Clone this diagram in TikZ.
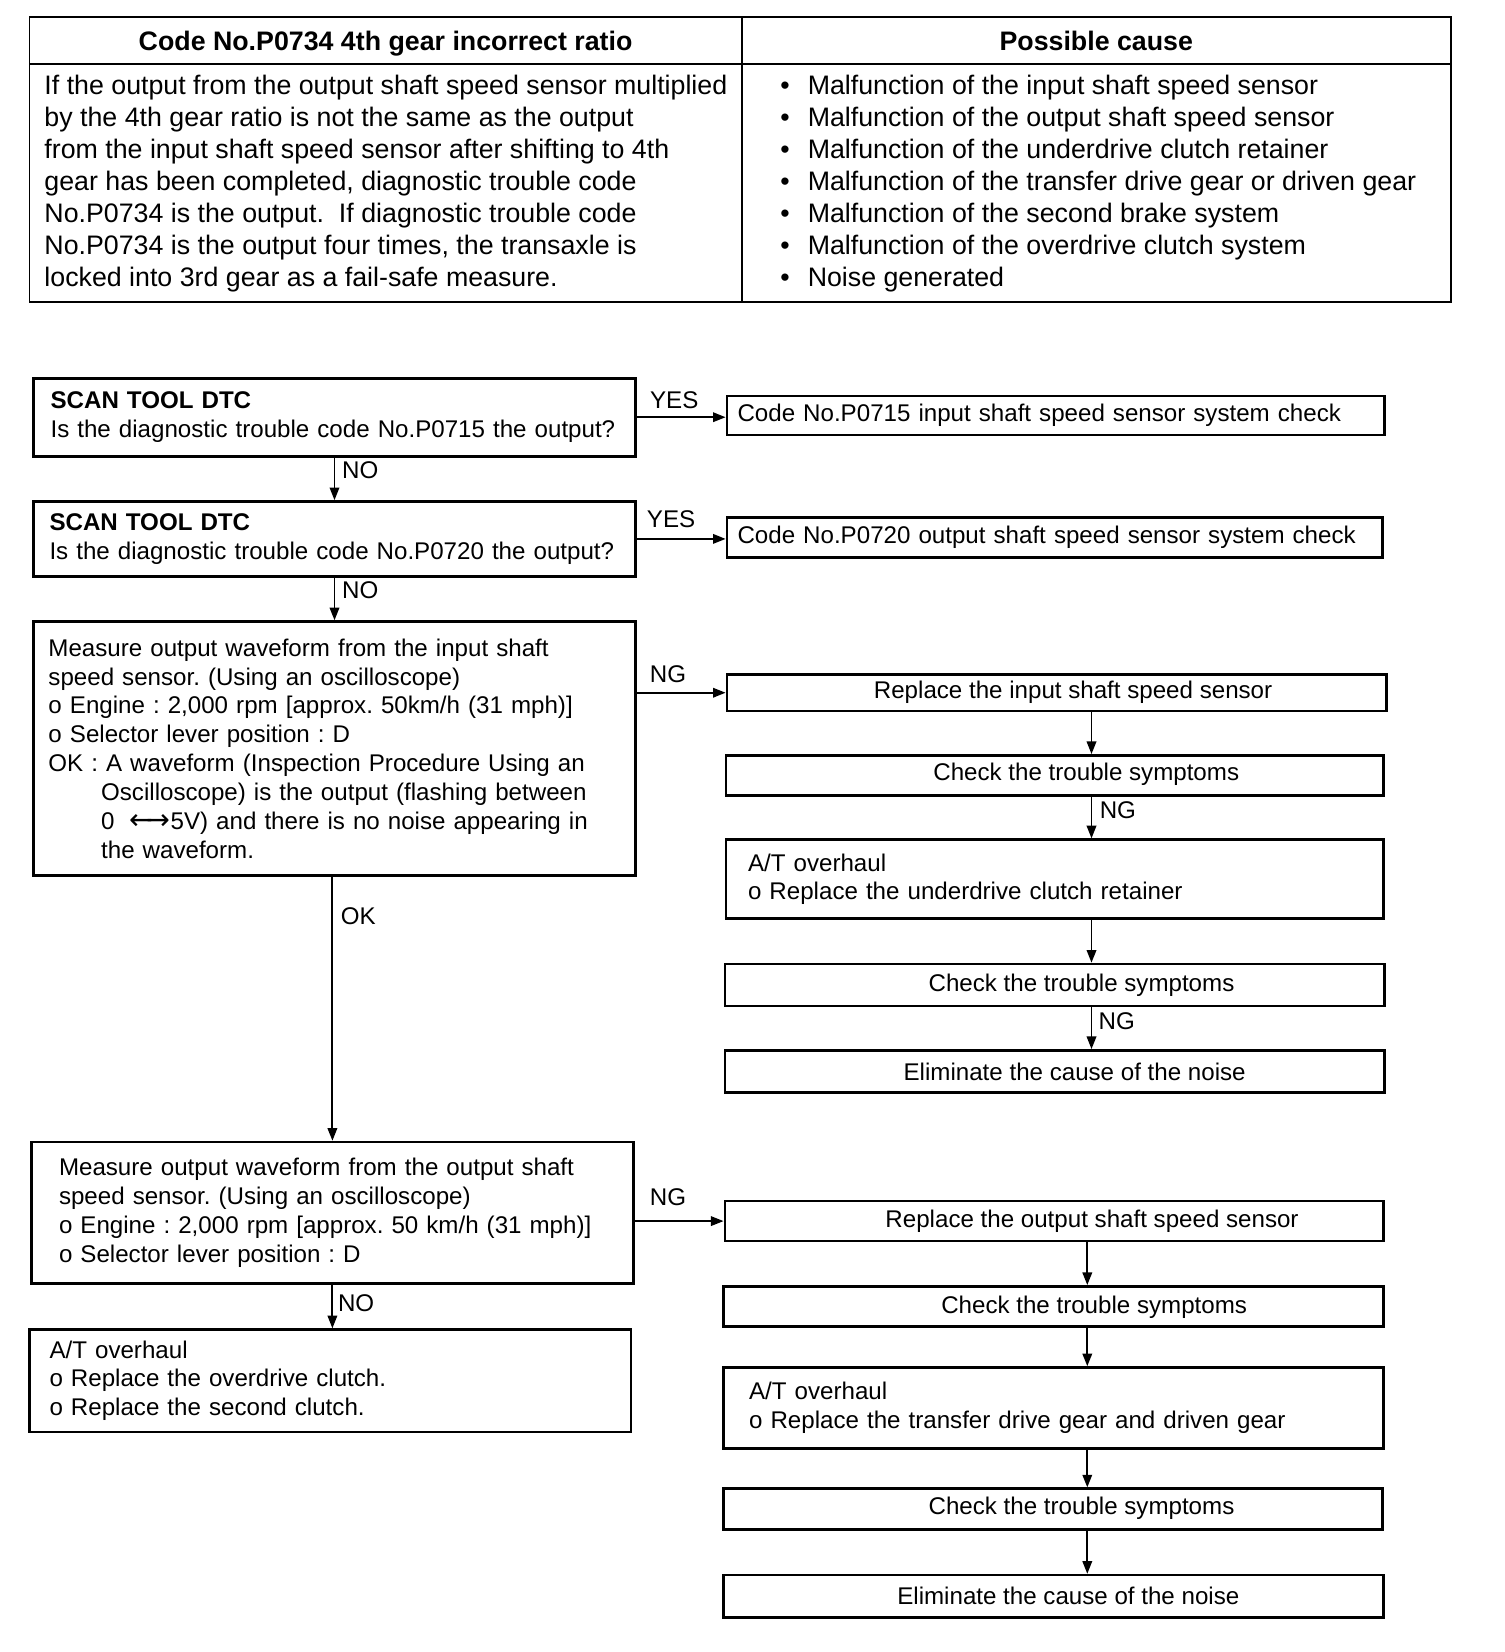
\documentclass[tikz,border=0pt]{standalone}
\usepackage{fontspec}
\setmainfont{Liberation Sans}
\newfontfamily\arrowfont{DejaVu Sans}
\usetikzlibrary{arrows.meta}

\newcommand{\flowfont}{\fontsize{22.9pt}{27.4pt}\selectfont}
\newcommand{\tablefont}{\fontsize{25.4pt}{30.3pt}\selectfont}
\newcommand{\causedot}{\makebox[26pt][l]{\textbullet}}
\newcommand{\okindent}{\hspace*{50pt}}
\frenchspacing

\begin{document}
\begin{tikzpicture}[x=1pt, y=-1pt, >={Triangle[length=12pt, width=9pt]},
    every node/.style={font=\flowfont, inner sep=0pt},
    cell/.style={draw, line width=1.8pt},
    box/.style={draw, line width=2.5pt, align=left, inner ysep=0pt},
    flow/.style={->, line width=1.8pt}]
  \useasboundingbox (0,0) rectangle (1428,1568);

  % table at the top
  \node[cell, minimum width=676pt, minimum height=45pt, text depth=0pt, font=\tablefont\bfseries] (hcode) at (366,38.5) {Code No.P0734 4th gear incorrect ratio};
  \node[cell, minimum width=673pt, minimum height=45pt, text depth=0pt, font=\tablefont\bfseries] (hcause) at (1040.5,38.5) {Possible cause};
  \node[cell, minimum width=676pt, minimum height=226pt] (bcode) at (366,174) {};
  \node[cell, minimum width=673pt, minimum height=226pt] (bcause) at (1040.5,174) {};
  \node[font=\tablefont, align=left, anchor=west] (cond) at (42,174) {If the output from the output shaft speed sensor multiplied\\
    by the 4th gear ratio is not the same as the output\\
    from the input shaft speed sensor after shifting to 4th\\
    gear has been completed, diagnostic trouble code\\
    No.P0734 is the output.\ \ If diagnostic trouble code\\
    No.P0734 is the output four times, the transaxle is\\
    locked into 3rd gear as a fail-safe measure.};
  \node[font=\tablefont, align=left, anchor=west] (causes) at (740.5,174) {\causedot Malfunction of the input shaft speed sensor\\
    \causedot Malfunction of the output shaft speed sensor\\
    \causedot Malfunction of the underdrive clutch retainer\\
    \causedot Malfunction of the transfer drive gear or driven gear\\
    \causedot Malfunction of the second brake system\\
    \causedot Malfunction of the overdrive clutch system\\
    \causedot Noise generated};

  % left column
  \node[box, minimum height=74pt, inner xsep=16pt, text width=539pt] (q1) at (317.5,396) {\textbf{SCAN TOOL DTC}\\Is the diagnostic trouble code No.P0715 the output?};
  \node[box, minimum height=71pt, inner xsep=15pt, text width=541pt] (q2) at (317.5,511.5) {\textbf{SCAN TOOL DTC}\\Is the diagnostic trouble code No.P0720 the output?};
  \node[box, minimum height=241pt, inner xsep=14pt, text width=543pt] (q3) at (317.5,710.5) {Measure output waveform from the input shaft\\
    speed sensor. (Using an oscilloscope)\\
    o Engine : 2,000 rpm [approx. 50km/h (31 mph)]\\
    o Selector lever position : D\\
    OK : A waveform (Inspection Procedure Using an\\
    \okindent Oscilloscope) is the output (flashing between\\
    \okindent 0\hspace{14pt}{\arrowfont\fontsize{27pt}{27.4pt}\selectfont ←\kern-6pt→}5V) and there is no noise appearing in\\
    \okindent the waveform.};
  \node[box, minimum height=134pt, inner xsep=26pt, text width=519pt] (q4) at (315.5,1151) {Measure output waveform from the output shaft\\
    speed sensor. (Using an oscilloscope)\\
    o Engine : 2,000 rpm [approx. 50 km/h (31 mph)]\\
    o Selector lever position : D};
  \node[box, minimum height=97pt, inner xsep=19pt, text width=533pt] (q5) at (313.5,1310.5) {A/T overhaul\\
    o Replace the overdrive clutch.\\
    o Replace the second clutch.};

  % right column
  \node[box, minimum height=37pt, inner xsep=10pt, text width=604pt] (r1) at (1002,394.5) {Code No.P0715 input shaft speed sensor system check};
  \node[box, minimum height=38pt, inner xsep=10pt, text width=602pt] (r2) at (1001,510) {Code No.P0720 output shaft speed sensor system check};

  \node[box, minimum width=626pt, minimum height=35pt] (ra1) at (1003,657.5) {};
  \node (ra1t) at (1018.5,657) {Replace the input shaft speed sensor};
  \node[box, minimum width=624pt, minimum height=38pt] (ra2) at (1001,736) {};
  \node (ra2t) at (1031,735) {Check the trouble symptoms};
  \node[box, minimum height=75pt, inner xsep=21pt, text width=582pt] (ra3) at (1001,834.5) {A/T overhaul\\o Replace the underdrive clutch retainer};
  \node[box, minimum width=626pt, minimum height=40pt] (ra4) at (1001,935) {};
  \node (ra4t) at (1026.5,935) {Check the trouble symptoms};
  \node[box, minimum width=626pt, minimum height=40pt] (ra5) at (1001,1017) {};
  \node (ra5t) at (1020,1017) {Eliminate the cause of the noise};

  \node[box, minimum width=625pt, minimum height=38pt] (rb1) at (1000.5,1159) {};
  \node (rb1t) at (1036.5,1159) {Replace the output shaft speed sensor};
  \node[box, minimum width=626pt, minimum height=38pt] (rb2) at (1000,1240) {};
  \node (rb2t) at (1038.5,1241) {Check the trouble symptoms};
  \node[box, minimum height=77pt, inner xsep=24pt, text width=578pt] (rb3) at (1000,1336.5) {A/T overhaul\\o Replace the transfer drive gear and driven gear};
  \node[box, minimum width=625pt, minimum height=39pt] (rb4) at (999.5,1432.5) {};
  \node (rb4t) at (1026.5,1432) {Check the trouble symptoms};
  \node[box, minimum width=626pt, minimum height=40pt] (rb5) at (1000,1515) {};
  \node (rb5t) at (1014,1515) {Eliminate the cause of the noise};

  \coordinate (colA) at (1036,0);
  \coordinate (colB) at (1032,0);

  % connectors
  \draw[flow] (q1.east) -- (q1.east -| r1.west);
  \draw[flow] (q2.east) -- (q2.east -| r2.west);
  \draw[flow] (ra1.west -| q3.east) -- (ra1.west);
  \draw[flow] (rb1.west -| q4.east) -- (rb1.west);
  \draw[flow] (q1.south) -- (q2.north);
  \draw[flow] (q2.south) -- (q3.north);
  \draw[flow] (q3.south -| q4.north) -- (q4.north);
  \draw[flow] (q4.south) -- (q4.south |- q5.north);
  \draw[flow] (ra1.south -| colA) -- (ra2.north -| colA);
  \draw[flow] (ra2.south -| colA) -- (ra3.north -| colA);
  \draw[flow] (ra3.south -| colA) -- (ra4.north -| colA);
  \draw[flow] (ra4.south -| colA) -- (ra5.north -| colA);
  \draw[flow] (rb1.south -| colB) -- (rb2.north -| colB);
  \draw[flow] (rb2.south -| colB) -- (rb3.north -| colB);
  \draw[flow] (rb3.south -| colB) -- (rb4.north -| colB);
  \draw[flow] (rb4.south -| colB) -- (rb5.north -| colB);

  % connector labels
  \node (yes1) at (640,380) {YES};
  \node (yes2) at (637,493) {YES};
  \node (no1) at (342,446) {NO};
  \node (no2) at (342,560) {NO};
  \node (ng1) at (634,640) {NG};
  \node (ok1) at (340,870) {OK};
  \node (ng2) at (634,1136) {NG};
  \node (no3) at (338,1237) {NO};
  \node (ng3) at (1061,769) {NG};
  \node (ng4) at (1060,969) {NG};
\end{tikzpicture}
\end{document}
